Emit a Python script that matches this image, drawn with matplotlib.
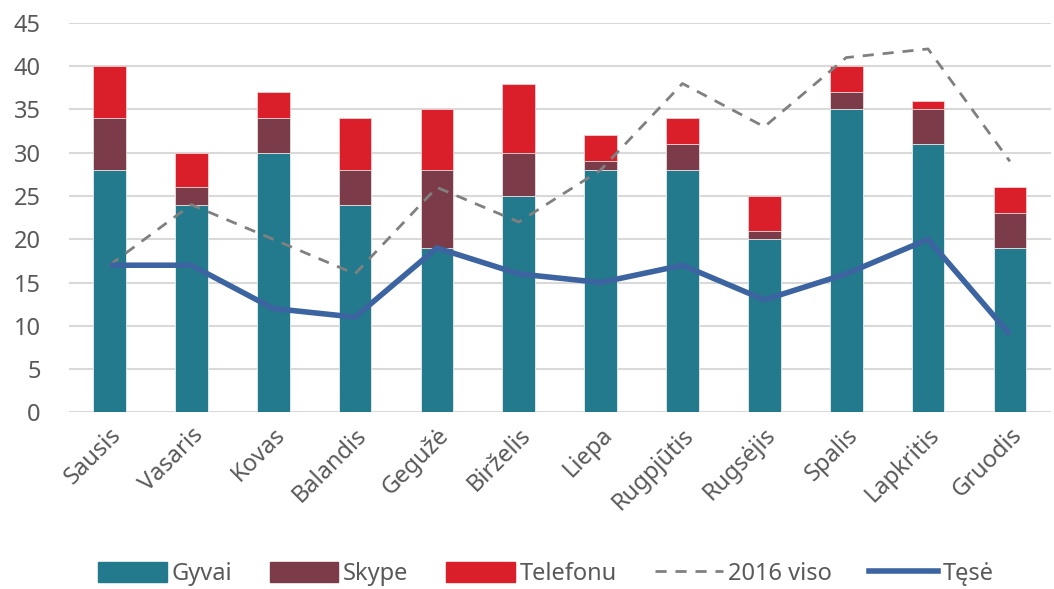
import matplotlib
matplotlib.use("Agg")
import matplotlib.pyplot as plt
import numpy as np
from matplotlib.lines import Line2D
from matplotlib.patches import Patch

months = ["Sausis", "Vasaris", "Kovas", "Balandis", "Gegužė", "Birželis",
          "Liepa", "Rugpjūtis", "Rugsėjis", "Spalis", "Lapkritis", "Gruodis"]
gyvai = [28, 24, 30, 24, 19, 25, 28, 28, 20, 35, 31, 19]
skype = [6, 2, 4, 4, 9, 5, 1, 3, 1, 2, 4, 4]
telefonu = [6, 4, 3, 6, 7, 8, 3, 3, 4, 3, 1, 3]
viso2016 = [17, 24, 20, 16, 26, 22, 28, 38, 33, 41, 42, 29]
tese = [17, 17, 12, 11, 19, 16, 15, 17, 13, 16, 20, 9]
yticks = [0, 5, 10, 15, 20, 25, 30, 35, 40, 45]

plt.rcParams['font.family'] = ['Noto Sans', 'DejaVu Sans']
txt = '#595959'
fs = 17

fig = plt.figure(figsize=(10.54, 5.89), dpi=100)
ax = fig.add_axes([0.065, 0.30, 0.932, 0.661])

x = np.arange(len(months))
w = 0.4
c_g, c_s, c_t = '#237A8C', '#7B3B48', '#DA1F2B'
ax.bar(x, gyvai, w, color=c_g, edgecolor='#e8eef0', linewidth=0.6, zorder=2)
b2 = np.array(gyvai)
ax.bar(x, skype, w, bottom=b2, color=c_s, edgecolor='#e8e0e0', linewidth=0.6, zorder=2)
b3 = b2 + np.array(skype)
ax.bar(x, telefonu, w, bottom=b3, color=c_t, edgecolor='#f0d0d0', linewidth=0.6, zorder=2)
ax.plot(x, viso2016, color='#808080', lw=2, dashes=(4, 3.2), zorder=3)
ax.plot(x, tese, color='#3C64A0', lw=4, zorder=4, solid_capstyle='butt')

ax.set_xlim(-0.5, len(months) - 0.5)
ax.set_ylim(0, 45)
ax.set_yticks(yticks)
ax.set_yticklabels([str(v) for v in yticks])
ax.yaxis.grid(True, color='#D9D9D9', lw=1.5, zorder=0)
ax.set_axisbelow(True)
for s in ax.spines.values():
    s.set_visible(False)
ax.tick_params(axis='both', length=0, labelsize=fs, colors=txt)
ax.tick_params(axis='y', pad=20)
ax.set_xticks(x)
ax.set_xticklabels(months, rotation=45, ha='right', rotation_mode='anchor')
ax.tick_params(axis='x', pad=8)
for lab in ax.get_xticklabels() + ax.get_yticklabels():
    lab.set_color(txt)

handles = [Patch(color=c_g), Patch(color=c_s), Patch(color=c_t),
           Line2D([0], [0], color='#808080', lw=2, dashes=(4, 3.2)),
           Line2D([0], [0], color='#3C64A0', lw=4)]
labels = ["Gyvai", "Skype", "Telefonu", "2016 viso", "Tęsė"]
leg = fig.legend(handles, labels, loc='center', bbox_to_anchor=(0.518, 0.025),
                 ncol=5, frameon=False, fontsize=fs, handlelength=2.9,
                 handleheight=0.95, handletextpad=0.2, columnspacing=1.6)
for t in leg.get_texts():
    t.set_color(txt)

fig.savefig("out.png", dpi=100)
